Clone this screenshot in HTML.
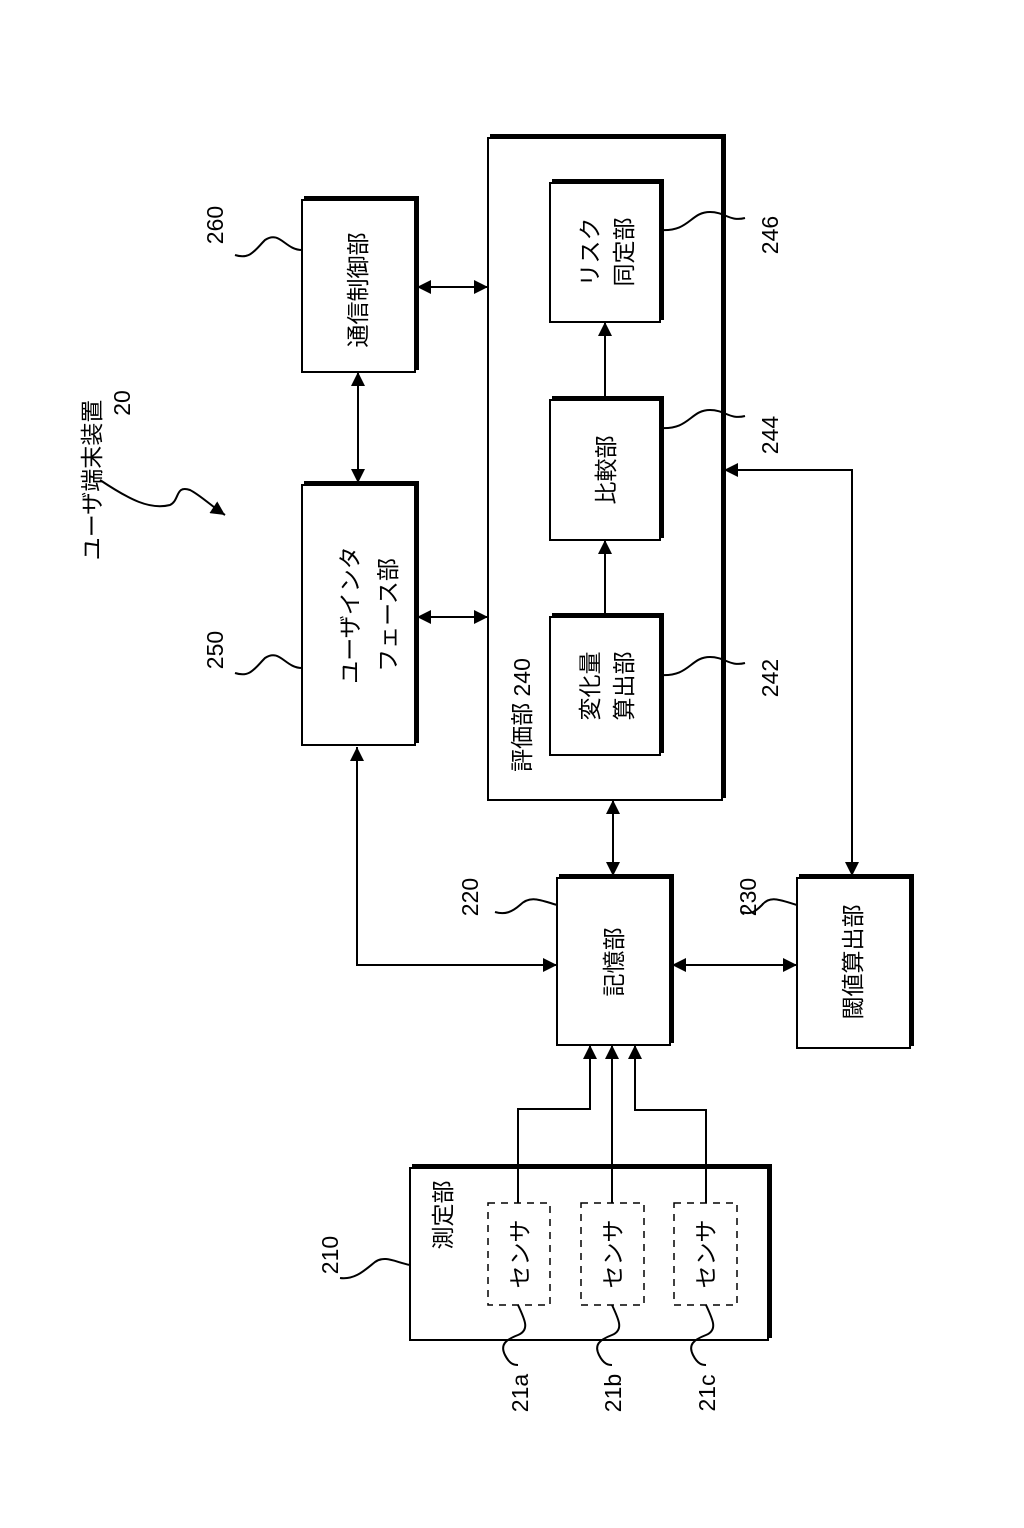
<!DOCTYPE html>
<html><head><meta charset="utf-8"><style>
html,body{margin:0;padding:0;background:#fff;}
svg{display:block;}
text{font-family:"Liberation Sans","Noto Sans CJK JP",sans-serif;fill:#000;}
</style></head><body>
<svg width="1024" height="1528" viewBox="0 0 1024 1528" xmlns="http://www.w3.org/2000/svg">
<defs>
<marker id="ah" viewBox="0 0 10 10" refX="10" refY="5" markerWidth="14" markerHeight="14" markerUnits="userSpaceOnUse" orient="auto-start-reverse">
<path d="M0,0 L10,5 L0,10 z" fill="#000"/></marker>
</defs>
<g fill="none" stroke="#000" stroke-width="2">
<!-- boxes -->
<rect x="302" y="200" width="113" height="172"/>
<rect x="302" y="485" width="113" height="260"/>
<rect x="488" y="138" width="234" height="662"/>
<rect x="550" y="183" width="110" height="139"/>
<rect x="550" y="400" width="110" height="140"/>
<rect x="550" y="617" width="110" height="138"/>
<rect x="557" y="878" width="113" height="167"/>
<rect x="797" y="878" width="113" height="170"/>
<rect x="410" y="1168" width="358" height="172"/>
</g>
<g fill="none" stroke="#000" stroke-width="4">
<path d="M304,198 H417 V370"/>
<path d="M304,483 H417 V743"/>
<path d="M490,136 H724 V798"/>
<path d="M552,181 H662 V320"/>
<path d="M552,398 H662 V538"/>
<path d="M552,615 H662 V753"/>
<path d="M559,876 H672 V1043"/>
<path d="M799,876 H912 V1046"/>
<path d="M412,1166 H770 V1338"/>
</g>
<g fill="none" stroke="#000" stroke-width="1.5" stroke-dasharray="7,6">
<rect x="488" y="1203" width="62" height="102"/>
<rect x="581" y="1203" width="63" height="102"/>
<rect x="674" y="1203" width="63" height="102"/>
</g>
<!-- connectors -->
<g fill="none" stroke="#000" stroke-width="2">
<line x1="417" y1="287" x2="488" y2="287" marker-start="url(#ah)" marker-end="url(#ah)"/>
<line x1="358" y1="372" x2="358" y2="483" marker-start="url(#ah)" marker-end="url(#ah)"/>
<line x1="417" y1="617" x2="488" y2="617" marker-start="url(#ah)" marker-end="url(#ah)"/>
<path d="M357,747 V965 H557" marker-start="url(#ah)" marker-end="url(#ah)"/>
<line x1="613" y1="800" x2="613" y2="876" marker-start="url(#ah)" marker-end="url(#ah)"/>
<line x1="672" y1="965" x2="797" y2="965" marker-start="url(#ah)" marker-end="url(#ah)"/>
<path d="M724,470 H852 V876" marker-start="url(#ah)" marker-end="url(#ah)"/>
<line x1="605" y1="617" x2="605" y2="540" marker-end="url(#ah)"/>
<line x1="605" y1="400" x2="605" y2="322" marker-end="url(#ah)"/>
<path d="M518,1203 V1109 H590 V1045" marker-end="url(#ah)"/>
<path d="M612,1203 V1045" marker-end="url(#ah)"/>
<path d="M706,1203 V1110 H635 V1045" marker-end="url(#ah)"/>
<!-- leaders -->
<path d="M100,480 C130,500 150,510 170,505 C180,500 175,485 190,490 C200,495 210,505 225,515" marker-end="url(#ah)"/>
<path d="M302,250 C285,250 280,230 265,240 C255,250 250,260 235,255"/>
<path d="M302,668 C285,668 280,648 265,658 C255,668 250,678 235,673"/>
<path d="M660,230 C690,232 690,212 710,212 C725,212 730,222 745,218"/>
<path d="M660,428 C690,430 690,410 710,410 C725,410 730,420 745,416"/>
<path d="M660,675 C690,677 690,657 710,657 C725,657 730,667 745,663"/>
<path d="M557,905 C540,900 530,895 520,905 C512,912 505,915 495,912"/>
<path d="M797,905 C780,900 770,895 762,905 C755,912 750,915 742,912"/>
<path d="M410,1265 C395,1262 385,1255 375,1262 C365,1270 355,1280 340,1278"/>
<path d="M518,1305 C525,1320 530,1330 518,1335 C505,1340 500,1345 505,1355 C510,1365 515,1365 518,1365"/>
<path d="M612,1305 C619,1320 624,1330 612,1335 C599,1340 594,1345 599,1355 C604,1365 609,1365 612,1365"/>
<path d="M706,1305 C713,1320 718,1330 706,1335 C693,1340 688,1345 693,1355 C698,1365 703,1365 706,1365"/>
</g>
<!-- texts rotated -90 -->
<g font-size="23" text-anchor="middle" dominant-baseline="central">
<text transform="translate(92,480) rotate(-90)">ユーザ端末装置</text>
<text transform="translate(122,403) rotate(-90)">20</text>
<text transform="translate(215,225) rotate(-90)">260</text>
<text transform="translate(215,650) rotate(-90)">250</text>
<text transform="translate(770,235) rotate(-90)">246</text>
<text transform="translate(770,435) rotate(-90)">244</text>
<text transform="translate(770,678) rotate(-90)">242</text>
<text transform="translate(470,897) rotate(-90)">220</text>
<text transform="translate(748,897) rotate(-90)">230</text>
<text transform="translate(330,1255) rotate(-90)">210</text>
<text transform="translate(520,1393) rotate(-90)">21a</text>
<text transform="translate(613,1393) rotate(-90)">21b</text>
<text transform="translate(707,1393) rotate(-90)">21c</text>
<text transform="translate(358,290) rotate(-90)">通信制御部</text>
<text transform="translate(350,615) rotate(-90)">ユーザインタ</text>
<text transform="translate(388,615) rotate(-90)">フェース部</text>
<text transform="translate(522,715) rotate(-90)">評価部 240</text>
<text transform="translate(590,252) rotate(-90)">リスク</text>
<text transform="translate(624,252) rotate(-90)">同定部</text>
<text transform="translate(606,470) rotate(-90)">比較部</text>
<text transform="translate(590,686) rotate(-90)">変化量</text>
<text transform="translate(624,686) rotate(-90)">算出部</text>
<text transform="translate(614,962) rotate(-90)">記憶部</text>
<text transform="translate(853,962) rotate(-90)">閾値算出部</text>
<text transform="translate(443,1215) rotate(-90)">測定部</text>
<text transform="translate(520,1254) rotate(-90)">センサ</text>
<text transform="translate(613,1254) rotate(-90)">センサ</text>
<text transform="translate(706,1254) rotate(-90)">センサ</text>
</g>
</svg>
</body></html>
